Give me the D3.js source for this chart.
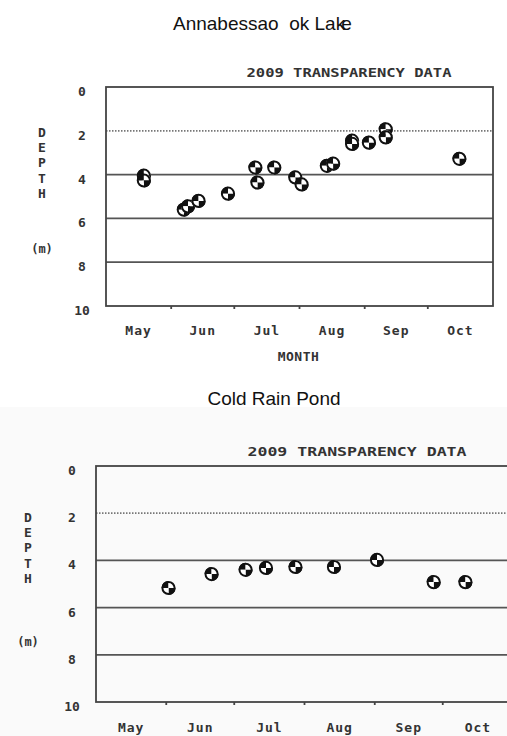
<!DOCTYPE html>
<html>
<head>
<meta charset="utf-8">
<title>2009 transparency data</title>
<script src="https://d3js.org/d3.v7.min.js"></script>
<style>
    body { margin: 0; background: #fff; }
    .title { font-family: "Liberation Sans", Arial, sans-serif; font-size: 19px; fill: #111; }
    .crt { font-family: "DejaVu Sans Mono", monospace; font-weight: bold; fill: #333; }
</style>
</head>
<body>
<svg width="507" height="736"></svg>
<script>
const months = ["May", "Jun", "Jul", "Aug", "Sep", "Oct"];
const monthStarts = ["2009-05-01", "2009-06-01", "2009-07-01", "2009-08-01", "2009-09-01", "2009-10-01", "2009-11-01"];
const depthTicks = [0, 2, 4, 6, 8, 10];
const yLetters = ["D", "E", "P", "T", "H"];

// Annabessacook Lake, Secchi depth (m)
const annaDates = ["2009-05-19", "2009-05-19", "2009-06-07", "2009-06-09", "2009-06-14", "2009-06-28",
                   "2009-07-11", "2009-07-12", "2009-07-20", "2009-07-30", "2009-08-02", "2009-08-14",
                   "2009-08-17", "2009-08-26", "2009-08-26", "2009-09-03", "2009-09-11", "2009-09-11",
                   "2009-10-16"];
const annaDepth = [4.05, 4.27, 5.6, 5.45, 5.2, 4.87,
                   3.68, 4.36, 3.68, 4.13, 4.45, 3.6,
                   3.5, 2.45, 2.6, 2.54, 1.93, 2.3,
                   3.28];

// Cold Rain Pond, Secchi depth (m)
const coldDates = ["2009-06-02", "2009-06-21", "2009-07-06", "2009-07-15", "2009-07-28",
                   "2009-08-14", "2009-09-02", "2009-09-27", "2009-10-11"];
const coldDepth = [5.17, 4.58, 4.4, 4.32, 4.28, 4.28, 3.98, 4.92, 4.92];

const parse = d3.timeParse("%Y-%m-%d");
const svg = d3.select("svg");

// faint grey tone of the second scan
svg.append("rect").attr("x", 0).attr("y", 407).attr("width", 507).attr("height", 329).attr("fill", "#fafafa");

svg.append("text").attr("class", "title").attr("x", 173).attr("y", 30)
    .text("Annabessao\u00a0 ok Lak")
    .append("tspan").attr("dx", -4).text("e");
svg.append("text").attr("class", "title").attr("x", 274).attr("y", 405)
    .attr("text-anchor", "middle").text("Cold Rain Pond");

function drawPanel(p) {
    const x = d3.scaleTime()
        .domain([parse(monthStarts[0]), parse(monthStarts[6])])
        .range([p.left, p.right]);
    const y = d3.scaleLinear().domain([0, 10]).range([p.top, p.bottom]);
    const g = svg.append("g");

    g.append("text").attr("class", "crt").attr("x", p.titleX).attr("y", p.titleY)
        .attr("text-anchor", "middle").attr("font-size", 13)
        .attr("textLength", p.titleW).attr("lengthAdjust", "spacingAndGlyphs")
        .text("2009 TRANSPARENCY DATA");

    // grid lines
    g.selectAll(".grid").data([4, 6, 8]).join("line")
        .attr("x1", p.left).attr("x2", p.right)
        .attr("y1", d => y(d)).attr("y2", d => y(d))
        .attr("stroke", "#555").attr("stroke-width", 1.8);
    g.append("line")
        .attr("x1", p.left).attr("x2", p.right)
        .attr("y1", y(2)).attr("y2", y(2))
        .attr("stroke", "#777").attr("stroke-width", 1.8).attr("stroke-dasharray", "1.5,1.5");

    // frame
    g.append("rect").attr("x", p.left).attr("y", p.top)
        .attr("width", p.right - p.left).attr("height", p.bottom - p.top)
        .attr("fill", "none").attr("stroke", "#444").attr("stroke-width", 1.8);

    // y tick labels
    g.selectAll(".yt").data(depthTicks).join("text")
        .attr("class", "crt").attr("font-size", 13).attr("text-anchor", "middle")
        .attr("x", p.yLabelX).attr("y", d => y(d) + 9)
        .text(d => d);

    // x ticks and month labels
    const bounds = monthStarts.slice(1, 6).map(parse);
    g.selectAll(".xt").data(bounds).join("line")
        .attr("x1", d => x(d)).attr("x2", d => x(d))
        .attr("y1", p.bottom).attr("y2", p.bottom + 3)
        .attr("stroke", "#444").attr("stroke-width", 1.8);
    g.selectAll(".mo").data(months).join("text")
        .attr("class", "crt").attr("font-size", 13).attr("text-anchor", "middle")
        .attr("letter-spacing", 1)
        .attr("x", (d, i) => (x(parse(monthStarts[i])) + x(parse(monthStarts[i + 1]))) / 2)
        .attr("y", p.monthY)
        .text(d => d);
    if (p.showMonth) {
        g.append("text").attr("class", "crt").attr("font-size", 13).attr("text-anchor", "middle")
            .attr("letter-spacing", 0.5)
            .attr("x", (p.left + p.right) / 2 - 1).attr("y", p.monthY + 26).text("MONTH");
    }

    // y axis title
    g.selectAll(".yl").data(yLetters).join("text")
        .attr("class", "crt").attr("font-size", 13).attr("text-anchor", "middle")
        .attr("x", p.depthX).attr("y", (d, i) => p.depthY + i * 15.2)
        .text(d => d);
    g.append("text").attr("class", "crt").attr("font-size", 12).attr("text-anchor", "middle")
        .attr("x", p.depthX).attr("y", p.unitY).text("(m)");

    // checkered markers
    const r = 7;
    const arc = d3.arc().innerRadius(0).outerRadius(r);
    const quads = [
        {s: -Math.PI / 2, e: 0, fill: "#111"},
        {s: 0, e: Math.PI / 2, fill: "#fff"},
        {s: Math.PI / 2, e: Math.PI, fill: "#111"},
        {s: Math.PI, e: 1.5 * Math.PI, fill: "#fff"}
    ];
    const pts = p.dates.map((d, i) => ({date: parse(d), depth: p.depth[i]}));
    const m = g.selectAll(".pt").data(pts).join("g")
        .attr("transform", d => `translate(${x(d.date)},${y(d.depth)})`);
    quads.forEach(q => {
        m.append("path").attr("d", arc({startAngle: q.s, endAngle: q.e})).attr("fill", q.fill);
    });
    m.append("circle").attr("r", r - 0.9).attr("fill", "none")
        .attr("stroke", "#111").attr("stroke-width", 2);
}

drawPanel({
    left: 106, right: 493, top: 87, bottom: 306,
    titleX: 349, titleY: 77, titleW: 205,
    yLabelX: 82, monthY: 335, showMonth: true,
    depthX: 42, depthY: 137, unitY: 253,
    dates: annaDates, depth: annaDepth
});

drawPanel({
    left: 96, right: 513, top: 466, bottom: 702,
    titleX: 357, titleY: 456, titleW: 219,
    yLabelX: 72, monthY: 732, showMonth: false,
    depthX: 28, depthY: 522, unitY: 646,
    dates: coldDates, depth: coldDepth
});
</script>
</body>
</html>
